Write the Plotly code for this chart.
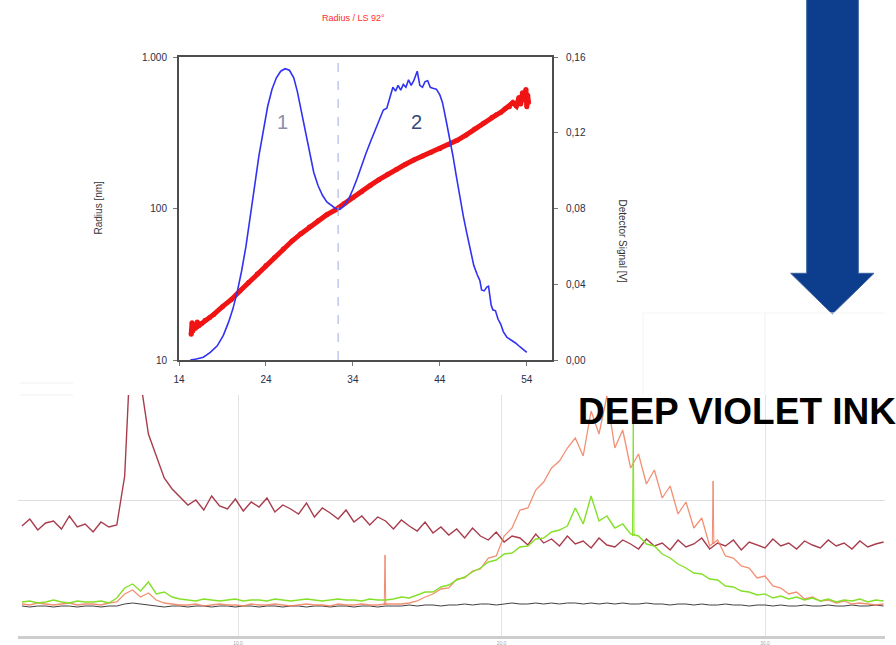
import numpy as np
import plotly.graph_objects as go

# ---------------- SEC run: radius (log) and detector signal ----------------
elution_ml = [15.3, 16.0, 16.8, 17.6, 18.4, 19.1, 19.7, 20.2, 20.7, 21.2, 21.7, 22.2, 22.7, 23.2,
              23.7, 24.2, 24.7, 25.2, 25.7, 26.2, 26.7, 27.2, 27.6, 28.0, 28.5, 29.0, 29.5, 30.0,
              30.5, 31.0, 31.5, 32.0, 32.5, 33.0, 33.5, 34.0, 34.5, 35.0, 35.5, 36.0, 36.5, 37.0,
              37.5, 37.9, 38.3, 38.6, 38.9, 39.2, 39.5, 39.8, 40.1, 40.4, 40.7, 41.0, 41.4, 41.7,
              42.0, 42.3, 42.6, 42.9, 43.2, 43.6, 44.0, 44.3, 44.7, 45.1, 45.5, 45.9, 46.3, 46.7,
              47.1, 47.5, 47.9, 48.3, 48.6, 48.8, 49.1, 49.4, 49.6, 49.9, 50.1, 50.4, 50.7, 51.0,
              51.3, 51.7, 52.2, 52.7, 53.2, 53.6, 54.0]
detector_v = [0.000, 0.0005, 0.0015, 0.004, 0.0075, 0.013, 0.020, 0.027, 0.036, 0.047, 0.060,
              0.075, 0.092, 0.108, 0.122, 0.134, 0.143, 0.149, 0.1525, 0.1538, 0.1530, 0.1490,
              0.1420, 0.1330, 0.1210, 0.1090, 0.0990, 0.0920, 0.0870, 0.0835, 0.0815, 0.0800,
              0.0795, 0.0815, 0.0850, 0.0900, 0.0960, 0.1030, 0.1090, 0.1150, 0.1210, 0.1260,
              0.1320, 0.1330, 0.1390, 0.1440, 0.1420, 0.1450, 0.1425, 0.1455, 0.1440, 0.1480,
              0.1450, 0.1475, 0.1525, 0.1450, 0.1440, 0.1470, 0.1475, 0.1440, 0.1435, 0.1430,
              0.1400, 0.1360, 0.1270, 0.1180, 0.1080, 0.0970, 0.0860, 0.0760, 0.0670, 0.0580,
              0.0500, 0.0450, 0.0420, 0.0370, 0.0365, 0.0385, 0.0390, 0.0290, 0.0265, 0.0260,
              0.0215, 0.0190, 0.0150, 0.0120, 0.0105, 0.0090, 0.0070, 0.0055, 0.0040]

radius_ml = [15.4, 15.5, 15.6, 15.7, 15.9, 16.1, 16.3, 16.6, 17.0, 17.5, 18.0, 19.0, 20.0, 21.0,
             22.0, 23.0, 24.0, 25.0, 26.0, 27.0, 28.0, 29.0, 30.0, 31.0, 32.0, 33.0, 34.0, 35.0,
             36.0, 37.0, 38.0, 39.0, 40.0, 41.0, 42.0, 43.0, 44.0, 45.0, 46.0, 47.0, 48.0, 49.0,
             50.0, 50.5, 51.0, 51.5, 52.0, 52.4, 52.8, 53.1, 53.3, 53.5, 53.7, 53.9, 54.0, 54.1,
             54.2]
radius_nm = [14.8, 17.6, 15.6, 17.0, 16.2, 17.8, 16.9, 17.4, 18.3, 19.0, 20.0, 22.5, 25.0, 28.5,
             32.5, 37.0, 42.0, 47.5, 54.0, 61.0, 68.0, 75.5, 83.0, 91.0, 98.0, 108, 118, 129,
             142, 155, 168, 181, 195, 209, 222, 235, 248, 265, 282, 305, 335, 365, 400, 415,
             430, 455, 470, 500, 475, 540, 490, 580, 520, 610, 470, 560, 500]

split_ml = 32.3
peak_labels = ["1", "2"]
peak_label_ml = [25.9, 41.3]
peak_label_v = [0.1257, 0.1257]

x_ticks = [14, 24, 34, 44, 54]
radius_ticks = [10, 100, 1000]
radius_ticktext = ["10", "100", "1.000"]
signal_ticks = [0.0, 0.04, 0.08, 0.12, 0.16]
signal_ticktext = ["0,00", "0,04", "0,08", "0,12", "0,16"]

# ---------------- HPLC trace (sampled every 0.3 min) ----------------
sample_start_min = 1.8
sample_step_min = 0.3

trace_darkred = [80, 87, 76, 83, 85, 77, 90, 79, 82, 74,
                 84, 79, 81, 130, 300, 225, 172, 150, 128, 117,
                 109, 101, 106, 96, 110, 100, 97, 107, 95, 104,
                 99, 108, 94, 101, 97, 92, 103, 89, 98, 93,
                 87, 96, 84, 90, 81, 89, 85, 77, 86, 80,
                 75, 84, 73, 79, 71, 77, 68, 78, 70, 66,
                 74, 64, 70, 68, 61, 72, 63, 67, 60, 70,
                 62, 65, 58, 68, 61, 59, 66, 62, 57, 67,
                 60, 63, 56, 66, 59, 62, 68, 57, 63, 60,
                 66, 56, 64, 61, 58, 67, 60, 63, 57, 65,
                 61, 58, 66, 60, 63, 57, 65, 59, 62, 64]
trace_salmon = [2, 1, 3, 2, 1, 2, 3, 1, 2, 2,
                1, 3, 4, 12, 16, 9, 13, 6, 3, 2,
                1, 1, 2, 0, 1, 2, 1, 1, 0, 2,
                1, 1, 2, 1, 0, 1, 2, 1, 1, 0,
                2, 1, 1, 2, 1, 1, 2, 2, 2, 3,
                5, 9, 12, 17, 18, 27, 28, 35, 37, 48,
                50, 70, 78, 96, 98, 116, 124, 138, 145, 158,
                168, 150, 195, 172, 210, 158, 176, 138, 152, 122,
                136, 108, 120, 92, 104, 78, 88, 60, 66, 50,
                48, 40, 38, 28, 30, 20, 18, 12, 14, 7,
                9, 5, 6, 3, 5, 2, 3, 2, 1, 2]
trace_green = [4, 5, 3, 4, 6, 4, 3, 5, 4, 4,
               5, 3, 8, 18, 22, 15, 24, 12, 14, 9,
               7, 6, 5, 7, 6, 5, 6, 7, 5, 6,
               6, 5, 7, 6, 5, 6, 7, 6, 5, 6,
               7, 6, 6, 5, 7, 6, 6, 7, 9, 8,
               11, 14, 14, 19, 21, 26, 29, 34, 38, 44,
               46, 52, 53, 59, 60, 67, 68, 74, 76, 80,
               98, 82, 110, 85, 90, 78, 82, 72, 70, 62,
               60, 52, 48, 42, 38, 33, 32, 27, 26, 20,
               19, 15, 14, 11, 12, 8, 10, 7, 9, 6,
               8, 5, 7, 4, 6, 5, 7, 4, 6, 5]
trace_black = [0, -1, 0, 0, -1, 0, 0, -1, 0, 0,
               -1, 0, 0, 2, 3, 2, 1, 0, -1, 0,
               0, -1, 0, 0, -1, 0, 0, -1, 0, 0,
               -1, 0, 0, -1, 0, 0, -1, 0, 0, -1,
               0, 0, -1, 0, 0, -1, 0, 0, 0, 1,
               0, 1, 1, 0, 1, 1, 2, 1, 2, 2,
               1, 2, 3, 2, 2, 3, 2, 3, 2, 3,
               3, 2, 3, 2, 3, 2, 3, 2, 2, 3,
               2, 2, 1, 2, 2, 1, 2, 1, 1, 2,
               1, 1, 0, 1, 1, 0, 1, 0, 0, 1,
               0, 0, 1, 0, 0, 1, 0, 0, 1, 0]

# narrow single-sample spikes (time min, height)
salmon_spike_min = [15.58, 28.03]
salmon_spike_val = [51, 125]
green_spike_min = [25.0]
green_spike_val = [186]
spike_base_val = [1, 62]
green_spike_base = [70]

time_ticks = [10, 20, 30]
time_ticktext = ["10.0", "20.0", "30.0"]

minutes = sample_start_min + sample_step_min * np.arange(len(trace_darkred))

W, H = 896, 645
FONT = "Liberation Sans, Arial, sans-serif"


def px(x):
    return x / W


def py(y):
    return 1 - y / H


def spike_xy(times, heights, bases, half=0.03):
    xs, ys = [], []
    for t, h, b in zip(times, heights, bases):
        xs += [t - half, t, t + half, None]
        ys += [b, h, b, None]
    return xs, ys


fig = go.Figure()

# SEC traces
fig.add_trace(go.Scatter(x=elution_ml, y=detector_v, mode="lines", xaxis="x", yaxis="y2",
                         line=dict(color="#3232f2", width=1.6), showlegend=False))
fig.add_trace(go.Scatter(x=radius_ml, y=radius_nm, mode="lines+markers", xaxis="x", yaxis="y",
                         line=dict(color="#f01414", width=5),
                         marker=dict(color="#f01414", size=5), showlegend=False))

# HPLC traces
fig.add_trace(go.Scatter(x=minutes, y=trace_black, mode="lines", xaxis="x2", yaxis="y3",
                         line=dict(color="#404040", width=1), showlegend=False))
fig.add_trace(go.Scatter(x=minutes, y=trace_darkred, mode="lines", xaxis="x2", yaxis="y3",
                         line=dict(color="#a83c4c", width=1.4), showlegend=False))
fig.add_trace(go.Scatter(x=minutes, y=trace_salmon, mode="lines", xaxis="x2", yaxis="y3",
                         line=dict(color="rgba(240,125,90,0.85)", width=1.3), showlegend=False))
sx, sy = spike_xy(salmon_spike_min, salmon_spike_val, spike_base_val)
fig.add_trace(go.Scatter(x=sx, y=sy, mode="lines", xaxis="x2", yaxis="y3",
                         line=dict(color="rgba(235,120,90,0.85)", width=1), showlegend=False))
fig.add_trace(go.Scatter(x=minutes, y=trace_green, mode="lines", xaxis="x2", yaxis="y3",
                         line=dict(color="#84e028", width=1.4), showlegend=False))
gx, gy = spike_xy(green_spike_min, green_spike_val, green_spike_base)
fig.add_trace(go.Scatter(x=gx, y=gy, mode="lines", xaxis="x2", yaxis="y3",
                         line=dict(color="#84e028", width=1), showlegend=False))

frame = "#4d4d4d"
tickfont = dict(family=FONT, size=10, color="#2b2d44")

annotations = [
    dict(text="Radius / LS 92°", x=px(353), y=py(18), xref="paper", yref="paper",
         yanchor="middle", showarrow=False, font=dict(family=FONT, size=9, color="#ff2a2a")),
    dict(text="Radius [nm]", x=px(90), y=py(179), xref="paper", yref="paper",
         textangle=-90, showarrow=False, font=dict(family=FONT, size=10, color="#333")),
    dict(text="Detector Signal [V]", x=px(630), y=py(197), xref="paper", yref="paper",
         textangle=90, showarrow=False, font=dict(family=FONT, size=10, color="#333")),
    dict(text="<b>DEEP VIOLET INK</b>", x=px(576), y=py(411), xref="paper", yref="paper",
         xanchor="left", yanchor="middle", showarrow=False,
         font=dict(family=FONT, size=37, color="#000")),
]
label_colors = ["#8a90a8", "#34497a"]
for lab, lx, ly, c in zip(peak_labels, peak_label_ml, peak_label_v, label_colors):
    annotations.append(dict(text=lab, x=lx, y=ly, xref="x", yref="y2", showarrow=False,
                            font=dict(family=FONT, size=20, color=c)))

arrow_path = (f"M {px(806.7)} {py(-2)} L {px(858.3)} {py(-2)} L {px(858.3)} {py(273.3)} "
              f"L {px(874)} {py(273.3)} L {px(832.3)} {py(314)} L {px(790.7)} {py(273.3)} "
              f"L {px(806.7)} {py(273.3)} Z")

shapes = [
    dict(type="line", xref="x", yref="y2", x0=split_ml, x1=split_ml, y0=0, y1=0.16,
         line=dict(color="#a0aade", width=1, dash="dash")),
    dict(type="path", xref="paper", yref="paper", path=arrow_path,
         fillcolor="#0d3e8e", line=dict(color="#3b5f9e", width=1)),
    # faint frame lines from the pasted screenshot
    dict(type="line", xref="paper", yref="paper", x0=px(20), x1=px(73), y0=py(383), y1=py(383),
         line=dict(color="#f0f0f0", width=1)),
    dict(type="line", xref="paper", yref="paper", x0=px(20), x1=px(73), y0=py(395), y1=py(395),
         line=dict(color="#f0f0f0", width=1)),
    dict(type="line", xref="paper", yref="paper", x0=px(643), x1=px(643), y0=py(313), y1=py(395),
         line=dict(color="#f4f4f4", width=1)),
    dict(type="line", xref="paper", yref="paper", x0=px(765), x1=px(765), y0=py(313), y1=py(395),
         line=dict(color="#f1f1f1", width=1)),
    dict(type="line", xref="paper", yref="paper", x0=px(643), x1=px(885), y0=py(313), y1=py(313),
         line=dict(color="#f5f5f5", width=1)),
]

fig.update_layout(
    width=W, height=H,
    margin=dict(l=0, r=0, t=0, b=0, autoexpand=False),
    paper_bgcolor="white", plot_bgcolor="white",
    showlegend=False,
    font=dict(family=FONT),
    xaxis=dict(domain=[px(179), px(552)], anchor="y", range=[14, 56.9], automargin=False,
               tickvals=x_ticks, ticktext=[str(v) for v in x_ticks],
               showline=True, mirror=True, linecolor=frame, linewidth=2,
               ticks="outside", ticklen=4, tickcolor="#777", tickfont=tickfont,
               ticklabelstandoff=5, showgrid=False, zeroline=False),
    yaxis=dict(domain=[py(360), py(57)], anchor="x", type="log", range=[1, 3], automargin=False,
               tickvals=radius_ticks, ticktext=radius_ticktext,
               showline=True, mirror=True, linecolor=frame, linewidth=2,
               ticks="outside", ticklen=4, tickcolor="#777", tickfont=tickfont,
               ticklabelstandoff=4, showgrid=False, zeroline=False),
    yaxis2=dict(overlaying="y", side="right", anchor="x", range=[0, 0.16], automargin=False,
                tickvals=signal_ticks, ticktext=signal_ticktext,
                showline=True, linecolor=frame, linewidth=2,
                ticks="outside", ticklen=4, tickcolor="#777", tickfont=tickfont,
                ticklabelstandoff=6, showgrid=False, zeroline=False),
    xaxis2=dict(domain=[px(18), px(885)], anchor="y3", range=[1.651, 34.554], automargin=False,
                tickvals=time_ticks, ticktext=time_ticktext,
                showgrid=True, gridcolor="#e3e3e3", gridwidth=1,
                showline=True, linecolor="#cdcdcd", linewidth=3,
                ticks="", ticklabelstandoff=0,
                tickfont=dict(family=FONT, size=5, color="#a8a8a8"),
                zeroline=False),
    yaxis3=dict(domain=[py(636), py(395)], anchor="x2", range=[-30, 211], automargin=False,
                tickvals=[106], showticklabels=False, showgrid=True,
                gridcolor="#dedede", gridwidth=1, zeroline=False, showline=False),
    annotations=annotations,
    shapes=shapes,
)

fig.write_html("out.html")
